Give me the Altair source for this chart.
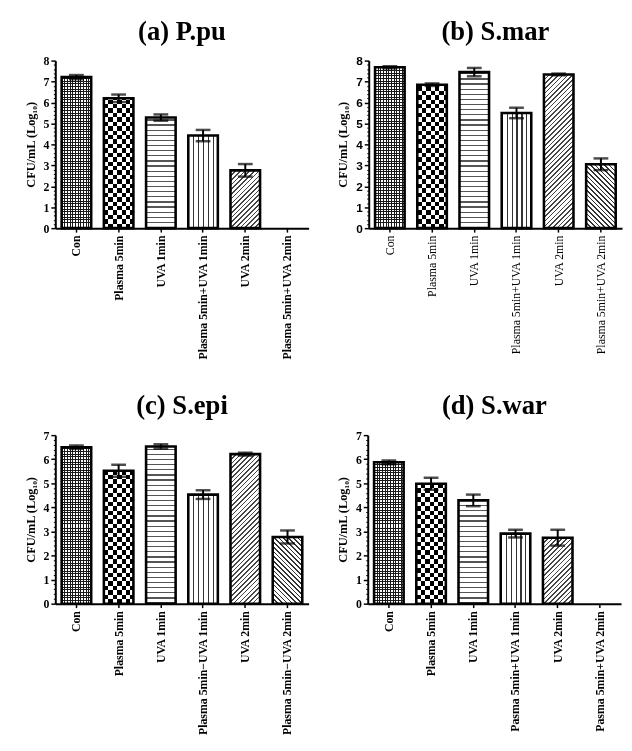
import math
import altair as alt
import pandas as pd

# ---------------- data ----------------
TITLES = ["(a) P.pu", "(b) S.mar", "(c) S.epi", "(d) S.war"]

CATS_A = ["Con", "Plasma 5min", "UVA 1min", "Plasma 5min+UVA 1min", "UVA 2min", "Plasma 5min+UVA 2min"]
CATS_B = ["Con", "Plasma 5min", "UVA 1min", "Plasma 5min+UVA 1min", "UVA 2min", "Plasma 5min+UVA 2min"]
CATS_C = ["Con", "Plasma 5min", "UVA 1min", "Plasma 5min\u2212UVA 1min", "UVA 2min", "Plasma 5min\u2212UVA 2min"]
CATS_D = ["Con", "Plasma 5min", "UVA 1min", "Pasma 5min+UVA 1min", "UVA 2min", "Pasma 5min+UVA 2min"]

VAL_A = [7.21, 6.20, 5.28, 4.42, 2.76, 0.0]
ERR_A = [0.10, 0.18, 0.15, 0.27, 0.30, 0.0]
VAL_B = [7.68, 6.85, 7.45, 5.50, 7.34, 3.05]
ERR_B = [0.05, 0.06, 0.20, 0.25, 0.04, 0.28]
VAL_C = [6.50, 5.52, 6.53, 4.53, 6.21, 2.77]
ERR_C = [0.07, 0.25, 0.09, 0.18, 0.06, 0.27]
VAL_D = [5.87, 4.98, 4.29, 2.91, 2.74, 0.0]
ERR_D = [0.08, 0.25, 0.24, 0.16, 0.33, 0.0]

YMAX = [8, 8, 7, 7]
Y_TITLE = "CFU/mL (Log\u2081\u2080)"

PATTERNS = ["mesh", "checker", "hlines", "vlines", "hatch_up", "hatch_down"]

# ---------------- layout ----------------
W = 257
H_TOP = 170
H_BOT = 171
PAD_IN, PAD_OUT = 0.3, 0.15
BW = W / (6 - PAD_IN + 2 * PAD_OUT) * (1 - PAD_IN)
SERIF = "Liberation Serif"
SANS = "Liberation Sans"
MAJOR = "abs(datum.value - round(datum.value)) < 0.001"


def stripes(total, period, line, fg, bg):
    stops = []
    n = int(math.ceil(total / period))
    for i in range(n):
        a = min(i * period / total, 1.0)
        b = min((i * period + line) / total, 1.0)
        c = min((i + 1) * period / total, 1.0)
        stops += [
            {"offset": round(a, 5), "color": fg},
            {"offset": round(b, 5), "color": fg},
            {"offset": round(b, 5), "color": bg},
            {"offset": round(c, 5), "color": bg},
        ]
    return stops


def vgrad(h, period, line, fg, bg):
    # horizontal lines, anchored at the baseline
    return {"gradient": "linear", "x1": 0, "y1": 1, "x2": 0, "y2": 0,
            "stops": stripes(h, period, line, fg, bg)}


def hgrad(w, period, line, fg, bg):
    # vertical lines
    return {"gradient": "linear", "x1": 0, "y1": 0, "x2": 1, "y2": 0,
            "stops": stripes(w, period, line, fg, bg)}


def dgrad(w, h, period, line, fg, bg, up=True):
    c = (w + h) / (w * w + h * h)
    total = (w + h) / math.sqrt(2)
    if up:
        g = {"x1": 0, "y1": 0, "x2": round(c * w, 5), "y2": round(c * h, 5)}
    else:
        g = {"x1": 0, "y1": 1, "x2": round(c * w, 5), "y2": round(1 - c * h, 5)}
    g.update({"gradient": "linear", "stops": stripes(total, period, line, fg, bg)})
    return g


def pattern_fills(kind, w, h):
    if kind == "mesh":
        return [(vgrad(h, 2.7, 1.0, "#1a1a1a", "#ffffff"), None),
                (hgrad(w, 2.7, 1.0, "#1a1a1a", "rgba(255,255,255,0)"), None)]
    if kind == "checker":
        return [(vgrad(h, 9.0, 4.5, "#000000", "#ffffff"), None),
                (hgrad(w, 9.0, 4.5, "#ffffff", "#000000"), "difference")]
    if kind == "hlines":
        return [(vgrad(h, 5.2, 1.2, "#555555", "#ffffff"), None)]
    if kind == "vlines":
        return [(hgrad(w, 5.0, 1.1, "#333333", "#ffffff"), None)]
    if kind == "hatch_up":
        return [(dgrad(w, h, 3.4, 1.2, "#444444", "#ffffff", up=True), None)]
    return [(dgrad(w, h, 3.4, 1.2, "#333333", "#ffffff", up=False), None)]


def panel(idx, cats, vals, errs, ymax, H, tick_font, xlab_weight):
    df = pd.DataFrame({
        "cat": cats,
        "val": vals,
        "lo": [v - e for v, e in zip(vals, errs)],
        "hi": [v + e for v, e in zip(vals, errs)],
    })
    xaxis = alt.Axis(title=None, labelAngle=-90, labelFont=SERIF, labelFontSize=12,
                     labelFontWeight=xlab_weight, labelColor="black", tickSize=4,
                     tickWidth=1.5, tickColor="black", domainWidth=2, domainColor="black",
                     labelPadding=3)
    yvalues = [round(i * 0.2, 1) for i in range(ymax * 5 + 1)]
    yaxis = alt.Axis(title=Y_TITLE, values=yvalues, labelFont=tick_font,
                     labelExpr=f"{MAJOR} ? toString(round(datum.value)) : ''",
                     labelOverlap=False,
                     labelFontSize=12, labelFontWeight="bold", labelColor="black",
                     titleFont=SERIF, titleFontSize=12.5, titleFontWeight="bold",
                     titleColor="black", titlePadding=6,
                     tickSize={"condition": {"test": MAJOR, "value": 4.5}, "value": 2},
                     tickWidth={"condition": {"test": MAJOR, "value": 1.5}, "value": 1},
                     tickColor="black", domainWidth=2, domainColor="black", grid=False,
                     labelPadding=2)
    xscale = alt.Scale(domain=cats, paddingInner=PAD_IN, paddingOuter=PAD_OUT)
    yscale = alt.Scale(domain=[0, ymax], nice=False)
    X = alt.X("cat:N", sort=cats, scale=xscale, axis=xaxis)

    base = alt.Chart(df)
    layers = []
    for i, (c, v) in enumerate(zip(cats, vals)):
        if v <= 0:
            continue
        hpx = v / ymax * H
        for fill, blend in pattern_fills(PATTERNS[i], BW, hpx):
            kw = {"fill": fill}
            if blend:
                kw["blend"] = blend
            layers.append(
                base.transform_filter(alt.FieldEqualPredicate(field="cat", equal=c))
                .mark_bar(**kw)
                .encode(x=X, y=alt.Y("val:Q", scale=yscale, axis=yaxis))
            )
    outline = (base.transform_filter(alt.datum.val > 0)
               .mark_bar(fillOpacity=0, stroke="black", strokeWidth=2.6)
               .encode(x=X, y=alt.Y("val:Q", scale=yscale, axis=yaxis)))
    rule = (base.transform_filter(alt.datum.val > 0)
            .mark_rule(color="black", strokeWidth=2)
            .encode(x=X, y=alt.Y("lo:Q", scale=yscale, axis=yaxis), y2="hi:Q"))
    cap_hi = (base.transform_filter(alt.datum.val > 0)
              .mark_tick(color="black", size=15, thickness=2.5)
              .encode(x=X, y=alt.Y("hi:Q", scale=yscale, axis=yaxis)))
    cap_lo = (base.transform_filter(alt.datum.val > 0)
              .mark_tick(color="black", size=15, thickness=2.5)
              .encode(x=X, y=alt.Y("lo:Q", scale=yscale, axis=yaxis)))
    return alt.layer(*layers, outline, rule, cap_hi, cap_lo).properties(
        width=W, height=H,
        title=alt.TitleParams(TITLES[idx], font=SERIF, fontSize=27, fontWeight="bold",
                              color="black", anchor="middle", frame="group", offset=9),
    )


pa = panel(0, CATS_A, VAL_A, ERR_A, YMAX[0], H_TOP, SERIF, "bold")
pb = panel(1, CATS_B, VAL_B, ERR_B, YMAX[1], H_TOP, SANS, "normal")
pc = panel(2, CATS_C, VAL_C, ERR_C, YMAX[2], H_BOT, SERIF, "bold")
pd_ = panel(3, CATS_D, VAL_D, ERR_D, YMAX[3], H_BOT, SERIF, "bold")

chart = alt.vconcat(
    alt.hconcat(pa, pb, spacing=28),
    alt.hconcat(pc, pd_, spacing=28),
    spacing=33,
).properties(
    padding={"left": 16, "top": 5, "right": 2, "bottom": 2},
    background="white",
).configure_view(stroke=None)

chart.save("out.html", embed_options={"renderer": "svg", "actions": False})
